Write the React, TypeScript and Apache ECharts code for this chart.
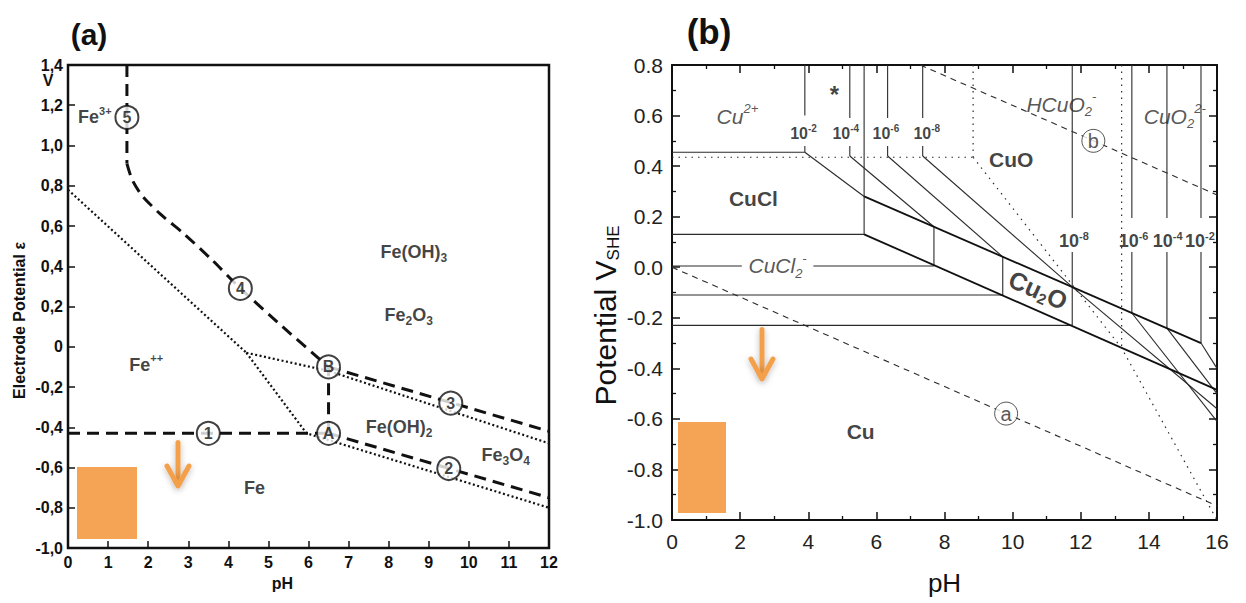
import React, { useEffect, useRef } from "react";
import * as echarts from "echarts";

const FONT = "'Liberation Sans', Arial, Helvetica, sans-serif";
const INK = "#111111";
const GREY = "#2b2b2b";
const ORANGE = "#F5A455";

// ---------------- Panel (a): Fe – H2O ----------------
const aLine1 = [[0, -0.43], [6.5, -0.43]];
const aLine2 = [[6.5, -0.43], [12, -0.75]];
const aLine3 = [[6.5, -0.1], [12, -0.42]];
const aLineAB = [[6.5, -0.43], [6.5, -0.1]];
const aLine5 = [[1.47, 1.4], [1.47, 0.91]];
const aLine4 = [
  [1.47, 0.91], [1.6, 0.83], [1.85, 0.75], [2.3, 0.66], [2.9, 0.56],
  [3.6, 0.43], [4.3, 0.29], [5.35, 0.1], [6.5, -0.1],
];
const aDotTop = [[0, 0.78], [4.45, -0.03]];
const aDotLow = [[4.45, -0.03], [5.95, -0.43], [12, -0.8]];
const aDotMid = [[4.45, -0.03], [6.5, -0.12], [12, -0.48]];
const aCircles: [number, number, string][] = [
  [3.5, -0.43, "1"], [9.5, -0.605, "2"], [9.55, -0.28, "3"], [4.3, 0.29, "4"],
  [1.47, 1.14, "5"], [6.5, -0.43, "A"], [6.5, -0.1, "B"],
];
const aLabels: [number, number, string][] = [
  [0.67, 1.14, "{m|Fe}{sp|3+}"],
  [1.95, -0.09, "{m|Fe}{sp|++}"],
  [8.63, 0.47, "{m|Fe(OH)}{sb|3}"],
  [8.5, 0.16, "{m|Fe}{sb|2}{m|O}{sb|3}"],
  [8.26, -0.4, "{m|Fe(OH)}{sb|2}"],
  [10.92, -0.54, "{m|Fe}{sb|3}{m|O}{sb|4}"],
  [4.65, -0.7, "{m|Fe}"],
];

// ---------------- Panel (b): Cu – Cl – H2O ----------------
const bHoriz = [
  [[0, 0.455], [3.9, 0.455]],
  [[0, 0.13], [5.64, 0.13]],
  [[0, 0.005], [2.05, 0.005]],
  [[4.15, 0.005], [7.69, 0.005]],
  [[0, -0.11], [9.71, -0.11]],
  [[0, -0.23], [11.75, -0.23]],
];
const bVert = [
  [[3.9, 0.8], [3.9, 0.6]], [[3.9, 0.48], [3.9, 0.455]],
  [[5.22, 0.8], [5.22, 0.59]], [[5.22, 0.48], [5.22, 0.44]],
  [[5.64, 0.8], [5.64, 0.13]],
  [[6.33, 0.8], [6.33, 0.59]], [[6.33, 0.48], [6.33, 0.44]],
  [[7.36, 0.8], [7.36, 0.59]], [[7.36, 0.48], [7.36, 0.44]],
  [[7.69, 0.16], [7.69, 0.005]],
  [[9.71, 0.041], [9.71, -0.11]],
  [[11.75, 0.8], [11.75, 0.195]], [[11.75, 0.06], [11.75, -0.23]],
  [[13.5, 0.8], [13.5, 0.195]], [[13.5, 0.06], [13.5, -0.181]],
  [[14.53, 0.8], [14.53, 0.195]], [[14.53, 0.06], [14.53, -0.241]],
  [[15.53, 0.8], [15.53, 0.195]], [[15.53, 0.06], [15.53, -0.3]],
];
const bDiag = [
  [[3.9, 0.455], [5.64, 0.28]],
  [[5.22, 0.44], [7.69, 0.16]],
  [[6.33, 0.44], [9.71, 0.041]],
  [[7.36, 0.44], [11.75, -0.078]],
  [[11.75, -0.078], [16, -0.56]],
  [[13.5, -0.181], [16, -0.61]],
  [[14.53, -0.241], [16, -0.5]],
  [[15.53, -0.3], [16, -0.4]],
];
const bCu2O = [
  [[5.64, 0.28], [15.53, -0.3]],
  [[5.64, 0.13], [16, -0.485]],
];
const bDotted = [
  [[0, 0.435], [8.84, 0.435]],
  [[8.84, 0.8], [8.84, 0.435]],
  [[8.84, 0.435], [13.2, -0.32], [16, -1.0]],
  [[13.2, 0.8], [13.2, -0.32]],
];
const bDashed = [
  [[0, 0], [16, -0.944]],
  [[7.29, 0.8], [16, 0.286]],
];
const bCircles: [number, number, string][] = [
  [9.81, -0.579, "a"],
  [12.37, 0.5, "b"],
];
const bLabels: [number, number, string][] = [
  [1.92, 0.597, "{i|Cu}{isp|2+}"],
  [2.39, 0.273, "{B|CuCl}"],
  [3.1, 0.005, "{i|CuCl}{isb|2}{isp|-}"],
  [9.96, 0.427, "{B|CuO}"],
  [11.43, 0.645, "{i|HCuO}{isb|2}{isp|-}"],
  [14.76, 0.597, "{i|CuO}{isb|2}{isp|2-}"],
  [5.54, -0.65, "{B|Cu}"],
  [4.77, 0.684, "{star|*}"],
];
const bTopConc: [number, number, string][] = [
  [3.86, 0.53, "{t|10}{ts|-2}"],
  [5.1, 0.53, "{t|10}{ts|-4}"],
  [6.28, 0.53, "{t|10}{ts|-6}"],
  [7.48, 0.53, "{t|10}{ts|-8}"],
];
const bRightConc: [number, number, string][] = [
  [11.8, 0.103, "{r|10}{rs|-8}"],
  [13.55, 0.103, "{r|10}{rs|-6}"],
  [14.55, 0.103, "{r|10}{rs|-4}"],
  [15.5, 0.103, "{r|10}{rs|-2}"],
];
const bCu2OLabel: [number, number, string][] = [[10.75, -0.09, "{C|Cu}{Cs|2}{C|O}"]];

function segSeries(segs: number[][][], xi: number, yi: number, lineStyle: any, smooth: any = false, z = 2) {
  return segs.map((s) => ({
    type: "line",
    xAxisIndex: xi,
    yAxisIndex: yi,
    data: s,
    symbol: "none",
    showSymbol: false,
    smooth,
    silent: true,
    clip: false,
    z,
    lineStyle,
  }));
}

function labelSeries(items: [number, number, string][], xi: number, yi: number, rich: any, rotate = 0) {
  return {
    type: "scatter",
    xAxisIndex: xi,
    yAxisIndex: yi,
    symbol: "circle",
    symbolSize: 1,
    silent: true,
    z: 6,
    itemStyle: { color: "rgba(0,0,0,0)" },
    data: items.map((d) => ({ value: [d[0], d[1]], txt: d[2] })),
    label: {
      show: true,
      position: "inside",
      rotate,
      formatter: (p: any) => p.data.txt,
      rich,
    },
  };
}

const aRich = {
  m: { fontSize: 18, fontWeight: "bold", fontFamily: FONT, color: INK, lineHeight: 24 },
  sb: { fontSize: 12, fontWeight: "bold", fontFamily: FONT, color: INK, lineHeight: 13, verticalAlign: "bottom" },
  sp: { fontSize: 11, fontWeight: "bold", fontFamily: FONT, color: INK, lineHeight: 13, verticalAlign: "top" },
};
const bRich = {
  i: { fontSize: 21, fontStyle: "italic", fontFamily: FONT, color: GREY, lineHeight: 28 },
  isb: { fontSize: 13, fontStyle: "italic", fontFamily: FONT, color: GREY, lineHeight: 14, verticalAlign: "bottom" },
  isp: { fontSize: 13, fontStyle: "italic", fontFamily: FONT, color: GREY, lineHeight: 14, verticalAlign: "top" },
  B: { fontSize: 21, fontWeight: "bold", fontFamily: FONT, color: INK, lineHeight: 26 },
  star: { fontSize: 24, fontWeight: "bold", fontFamily: FONT, color: INK, lineHeight: 26 },
  t: { fontSize: 16, fontWeight: "bold", fontFamily: FONT, color: INK, lineHeight: 20 },
  ts: { fontSize: 10, fontWeight: "bold", fontFamily: FONT, color: INK, lineHeight: 10, verticalAlign: "top" },
  r: { fontSize: 18, fontWeight: "bold", fontFamily: FONT, color: INK, lineHeight: 22 },
  rs: { fontSize: 11, fontWeight: "bold", fontFamily: FONT, color: INK, lineHeight: 11, verticalAlign: "top" },
};
const cuORich = {
  C: { fontSize: 25, fontWeight: "bold", fontFamily: FONT, color: INK, lineHeight: 28 },
  Cs: { fontSize: 15, fontWeight: "bold", fontFamily: FONT, color: INK, lineHeight: 14, verticalAlign: "bottom" },
};

function arrow(x: number, y1: number, y2: number) {
  const shadow = { shadowBlur: 6, shadowColor: "rgba(0,0,0,0.25)", shadowOffsetY: 2 };
  return {
    type: "group",
    children: [
      {
        type: "rect",
        shape: { x: x - 2.5, y: y1, width: 5, height: y2 - y1 - 2, r: 2.5 },
        style: { fill: "#F4A04C", ...shadow },
      },
      {
        type: "polyline",
        shape: { points: [[x - 11, y2 - 20], [x, y2], [x + 11, y2 - 20]] },
        style: { stroke: "#F4A04C", lineWidth: 5, lineCap: "round", lineJoin: "round", fill: null, ...shadow },
      },
    ],
  };
}

export default function App() {
  const ref = useRef<HTMLDivElement>(null);
  useEffect(() => {
    if (!ref.current) return;
    const chart = echarts.init(ref.current, undefined, { renderer: "svg" });

    const aAxisLabel = { fontSize: 16, fontWeight: "bold", fontFamily: FONT, color: INK };
    const bAxisLabel = { fontSize: 21, fontFamily: FONT, color: "#222" };
    const aDash = { color: INK, width: 3, type: [12, 7] };
    const aDot = { color: INK, width: 2.2, type: [2, 2.5] };
    const bSolid = { color: GREY, width: 1.1 };
    const bThick = { color: INK, width: 1.8 };
    const bDot = { color: GREY, width: 1.2, type: [1.5, 5] };
    const bDash = { color: GREY, width: 1.1, type: [6, 5] };

    const option: any = {
      animation: false,
      backgroundColor: "#ffffff",
      grid: [
        { left: 68, top: 65, width: 481, height: 483, show: true, borderColor: INK, borderWidth: 2.5, backgroundColor: "transparent" },
        { left: 672, top: 65, width: 545, height: 455, show: false },
      ],
      xAxis: [
        {
          gridIndex: 0, type: "value", min: 0, max: 12, interval: 1,
          axisLine: { show: true, onZero: false, lineStyle: { color: INK, width: 2 } },
          axisTick: { show: true, inside: true, length: 7, lineStyle: { color: INK, width: 1.5 } },
          axisLabel: { ...aAxisLabel, margin: 6 },
          splitLine: { show: false },
          name: "pH", nameLocation: "middle", nameGap: 27,
          nameTextStyle: { fontSize: 16, fontWeight: "bold", fontFamily: FONT, color: INK, padding: [0, 52, 0, 0] },
        },
        {
          gridIndex: 1, type: "value", min: 0, max: 16, interval: 2,
          axisLine: { show: true, onZero: false, lineStyle: { color: INK, width: 2 } },
          axisTick: { show: true, inside: true, length: 8, lineStyle: { color: INK, width: 1.5 } },
          minorTick: { show: true, splitNumber: 2, length: 4, lineStyle: { color: INK, width: 1.3 } },
          axisLabel: { ...bAxisLabel, margin: 11 },
          splitLine: { show: false },
          name: "pH", nameLocation: "middle", nameGap: 50,
          nameTextStyle: { fontSize: 26, fontFamily: FONT, color: INK },
        },
        {
          gridIndex: 1, type: "value", position: "top", min: 0, max: 16, interval: 2,
          axisLine: { show: true, onZero: false, lineStyle: { color: INK, width: 2 } },
          axisTick: { show: true, inside: true, length: 8, lineStyle: { color: INK, width: 1.5 } },
          minorTick: { show: true, splitNumber: 2, length: 4, lineStyle: { color: INK, width: 1.3 } },
          axisLabel: { show: false },
          splitLine: { show: false },
        },
      ],
      yAxis: [
        {
          gridIndex: 0, type: "value", min: -1.0, max: 1.4, interval: 0.2,
          axisLine: { show: true, onZero: false, lineStyle: { color: INK, width: 2 } },
          axisTick: { show: true, inside: true, length: 7, lineStyle: { color: INK, width: 1.5 } },
          axisLabel: {
            ...aAxisLabel, margin: 5,
            formatter: (v: number) => (Math.abs(v) < 1e-9 ? "0" : v.toFixed(1).replace(".", ",")),
          },
          splitLine: { show: false },
          name: "Electrode Potential ε", nameLocation: "middle", nameGap: 41,
          nameTextStyle: { fontSize: 16, fontWeight: "bold", fontFamily: FONT, color: INK, padding: [0, 28, 0, 0] },
        },
        {
          gridIndex: 1, type: "value", min: -1.0, max: 0.8, interval: 0.2,
          axisLine: { show: true, onZero: false, lineStyle: { color: INK, width: 2 } },
          axisTick: { show: true, inside: true, length: 8, lineStyle: { color: INK, width: 1.5 } },
          minorTick: { show: true, splitNumber: 2, length: 4, lineStyle: { color: INK, width: 1.3 } },
          axisLabel: {
            ...bAxisLabel, margin: 9,
            formatter: (v: number) => (Math.abs(v) < 1e-9 ? 0 : v).toFixed(1),
          },
          splitLine: { show: false },
          name: "Potential V{sub|SHE}", nameLocation: "middle", nameGap: 50,
          nameTextStyle: {
            fontSize: 30, fontFamily: FONT, color: INK, lineHeight: 34, padding: [0, 46, 0, 0],
            rich: { sub: { fontSize: 17, fontFamily: FONT, color: INK, lineHeight: 14, verticalAlign: "bottom" } },
          },
        },
        {
          gridIndex: 1, type: "value", position: "right", min: -1.0, max: 0.8, interval: 0.2,
          axisLine: { show: true, onZero: false, lineStyle: { color: INK, width: 2 } },
          axisTick: { show: true, inside: true, length: 8, lineStyle: { color: INK, width: 1.5 } },
          minorTick: { show: true, splitNumber: 2, length: 4, lineStyle: { color: INK, width: 1.3 } },
          axisLabel: { show: false },
          splitLine: { show: false },
        },
      ],
      series: [
        // panel (a)
        ...segSeries([aLine1, aLine2, aLine3, aLineAB, aLine5], 0, 0, aDash),
        ...segSeries([aLine4], 0, 0, aDash, 0.25),
        ...segSeries([aDotTop, aDotLow, aDotMid], 0, 0, aDot),
        {
          type: "scatter", xAxisIndex: 0, yAxisIndex: 0, symbol: "circle", symbolSize: 23, silent: true, z: 5,
          itemStyle: { color: "#ffffff", borderColor: INK, borderWidth: 2 },
          data: aCircles.map((c) => ({ value: [c[0], c[1]], txt: c[2] })),
          label: { show: true, position: "inside", formatter: (p: any) => p.data.txt, fontSize: 16, fontWeight: "bold", fontFamily: FONT, color: INK },
        },
        labelSeries(aLabels, 0, 0, aRich),
        // panel (b)
        ...segSeries(bHoriz, 1, 1, bSolid),
        ...segSeries(bVert, 1, 1, bSolid),
        ...segSeries(bDiag, 1, 1, bSolid),
        ...segSeries(bCu2O, 1, 1, bThick),
        ...segSeries(bDotted, 1, 1, bDot),
        ...segSeries(bDashed, 1, 1, bDash),
        {
          type: "scatter", xAxisIndex: 1, yAxisIndex: 1, symbol: "circle", symbolSize: 23, silent: true, z: 5,
          itemStyle: { color: "#ffffff", borderColor: GREY, borderWidth: 1 },
          data: bCircles.map((c) => ({ value: [c[0], c[1]], txt: c[2] })),
          label: { show: true, position: "inside", formatter: (p: any) => p.data.txt, fontSize: 20, fontFamily: FONT, color: GREY },
        },
        labelSeries(bLabels, 1, 1, bRich),
        labelSeries(bTopConc, 1, 1, bRich),
        labelSeries(bRightConc, 1, 1, bRich),
        labelSeries(bCu2OLabel, 1, 1, cuORich, -24),
      ],
      graphic: [
        { type: "rect", shape: { x: 77, y: 467, width: 60, height: 72 }, style: { fill: ORANGE }, z: 10 },
        { type: "rect", shape: { x: 678, y: 422, width: 48, height: 91 }, style: { fill: ORANGE }, z: 10 },
        { ...arrow(178, 440, 486), z: 10 },
        { ...arrow(762, 327, 379), z: 10 },
        { type: "text", x: 89, y: 34, style: { text: "(a)", fontSize: 30, fontWeight: "bold", fontFamily: FONT, fill: INK, align: "center", verticalAlign: "middle" } },
        { type: "text", x: 709, y: 31, style: { text: "(b)", fontSize: 35, fontWeight: "bold", fontFamily: FONT, fill: INK, align: "center", verticalAlign: "middle" } },
        { type: "text", x: 48, y: 80, style: { text: "V", fontSize: 16, fontWeight: "bold", fontFamily: FONT, fill: INK, align: "center", verticalAlign: "middle" } },
      ],
    };
    chart.setOption(option);
    return () => chart.dispose();
  }, []);
  return (
    <div
      ref={ref}
      style={{ position: "fixed", left: 0, top: 0, width: 1246, height: 603, background: "#fff" }}
    />
  );
}
